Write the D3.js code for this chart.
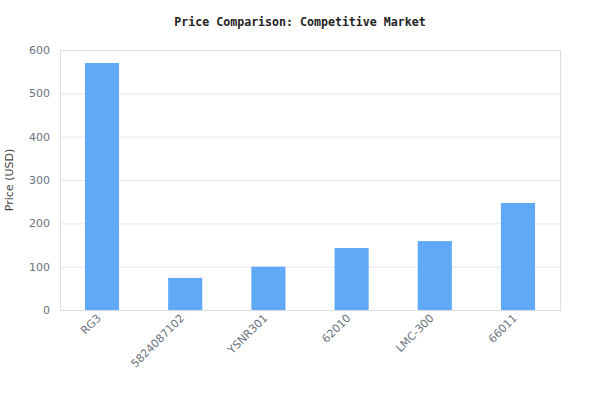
<!DOCTYPE html>
<html>
<head>
<meta charset="utf-8">
<script src="https://cdn.jsdelivr.net/npm/d3@7"></script>
<style>
  body { margin: 0; background: #fff; }
  svg { display: block; }
</style>
</head>
<body>
<svg id="chart" width="600" height="420"></svg>
<script>
// data
const models = ["RG3", "5824087102", "YSNR301", "62010", "LMC-300", "66011"];
const prices = [570, 74, 100, 143, 159, 247];
const yTicks = [0, 100, 200, 300, 400, 500, 600];

var svg = d3.select("#chart");
var margin = { top: 50, right: 40, bottom: 110, left: 60 };
var width = 600 - margin.left - margin.right;
var height = 420 - margin.top - margin.bottom;

var x = d3.scaleBand().domain(models).range([0, width]).paddingInner(0.59).paddingOuter(0.3);
var y = d3.scaleLinear().domain([0, 600]).range([height, 0]);

svg.append("text")
  .attr("x", 300)
  .attr("y", 26)
  .attr("text-anchor", "middle")
  .attr("font-family", "DejaVu Sans Mono, monospace")
  .attr("font-weight", "bold")
  .attr("font-size", 11.6)
  .attr("fill", "#222")
  .text("Price Comparison: Competitive Market");

var g = svg.append("g").attr("transform", `translate(${margin.left},${margin.top})`);

// gridlines
g.append("g")
  .selectAll("line")
  .data(yTicks.slice(1, -1))
  .enter()
  .append("line")
  .attr("x1", 0)
  .attr("x2", width)
  .attr("y1", d => y(d) + 0.5)
  .attr("y2", d => y(d) + 0.5)
  .attr("stroke", "#e5e7eb")
  .attr("stroke-width", 1);

// bars
g.append("g")
  .selectAll("rect")
  .data(models)
  .enter()
  .append("rect")
  .attr("x", d => x(d))
  .attr("y", (d, i) => y(prices[i]))
  .attr("width", x.bandwidth())
  .attr("height", (d, i) => height - y(prices[i]))
  .attr("fill", "#60a9f6");

// plot frame
g.append("rect")
  .attr("x", 0.5)
  .attr("y", 0.5)
  .attr("width", width)
  .attr("height", height)
  .attr("fill", "none")
  .attr("stroke", "#dddddd");

// y axis
var yAxis = g.append("g")
  .call(d3.axisLeft(y).tickValues(yTicks).tickSize(0).tickPadding(10));
yAxis.select(".domain").remove();
yAxis.selectAll("text")
  .attr("font-family", "DejaVu Sans, sans-serif")
  .attr("font-size", 11)
  .attr("fill", "#6b7280");

// x axis
var xAxis = g.append("g")
  .attr("transform", `translate(0,${height})`)
  .call(d3.axisBottom(x).tickSize(0).tickPadding(10));
xAxis.select(".domain").remove();
xAxis.selectAll("text")
  .attr("font-family", "DejaVu Sans, sans-serif")
  .attr("font-size", 11)
  .attr("fill", "#6b7280")
  .attr("text-anchor", "end")
  .attr("dy", "0.35em")
  .attr("transform", "translate(-3,6) rotate(-45)")
  .attr("y", 0)
  .attr("x", 0);

svg.append("text")
  .attr("transform", `translate(13,${margin.top + height / 2}) rotate(-90)`)
  .attr("text-anchor", "middle")
  .attr("font-family", "DejaVu Sans, sans-serif")
  .attr("font-size", 11)
  .attr("fill", "#444")
  .text("Price (USD)");
</script>
</body>
</html>
